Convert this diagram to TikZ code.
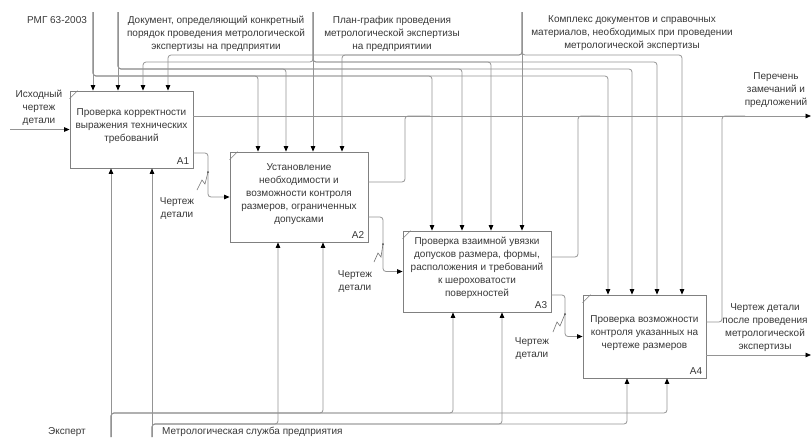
\documentclass[tikz,border=0pt]{standalone}
\usepackage{fontspec}
\setmainfont{Liberation Sans}
\usetikzlibrary{arrows.meta}
\begin{document}
\begin{tikzpicture}[x=1pt,y=-1pt,
  ln/.style={draw=black!42, line width=0.8pt, rounded corners=3pt},
  arr/.style={ln, -{Triangle[length=5.5pt,width=4.5pt,color=black]}},
  box/.style={draw=black!50, line width=0.8pt, fill=white, inner sep=0pt},
  boxline/.style={draw=black!50, line width=0.6pt},
  txt/.style={font=\fontsize{10}{13}\selectfont, text=black!78, align=center, inner sep=0pt},
  sq/.style={draw=black!55, line width=0.6pt},
]
\useasboundingbox[fill=white] (0,0) rectangle (812,437);

% boxes
\node[box, minimum width=123pt, minimum height=77pt] (A1) at (131.5,129.5) {};
\node[box, minimum width=138pt, minimum height=90pt] (A2) at (299,197) {};
\node[box, minimum width=148pt, minimum height=81pt] (A3) at (477,271.5) {};
\node[box, minimum width=123pt, minimum height=83pt] (A4) at (644.5,336.5) {};
\foreach \b in {A1,A2,A3,A4}{
  \draw[boxline] ([yshift=-8pt]\b.north west) -- ([xshift=8pt]\b.north west);
  \node[txt, anchor=south east] (\b n) at ([xshift=-4pt,yshift=4pt]\b.south east) {\b};
}
\node[txt] (t1) at ([yshift=3pt]A1.center) {Проверка корректности\\выражения технических\\требований};
\node[txt] (t2) at ([yshift=3pt]A2.center) {Установление\\необходимости и\\возможности контроля\\размеров, ограниченных\\допусками};
\node[txt] (t3) at ([yshift=4pt]A3.center) {Проверка взаимной увязки\\допусков размера, формы,\\расположения и требований\\к шероховатости\\поверхностей};
\node[txt] (t4) at ([yshift=3pt]A4.center) {Проверка возможности\\контроля указанных на\\чертеже размеров};

% sources
\coordinate (rmg) at (93,12);
\coordinate (doc) at (118,12);
\coordinate (plan) at (313,12);
\coordinate (kompl) at (522,12);
\coordinate (exp) at (111,437);
\coordinate (mslu) at (152,437);

% controls
\draw[arr] (rmg) -- (rmg |- A1.north);
\foreach \x/\b in {258/A2,432/A3,608/A4}
  \draw[arr] (rmg) -- (93,76) -- (\x,76) -- (\x,0 |- \b.north);
\draw[arr] (doc) -- (doc |- A1.north);
\foreach \x/\b in {286/A2,462/A3,632/A4}
  \draw[arr] (doc) -- (118,69) -- (\x,69) -- (\x,0 |- \b.north);
\draw[arr] (plan) -- (plan |- A2.north);
\foreach \x/\b in {143/A1,491/A3,657/A4}
  \draw[arr] (plan) -- (313,62) -- (\x,62) -- (\x,0 |- \b.north);
\draw[arr] (kompl) -- (kompl |- A3.north);
\foreach \x/\b in {168/A1,342/A2,682/A4}
  \draw[arr] (kompl) -- (522,55) -- (\x,55) -- (\x,0 |- \b.north);

% mechanisms
\draw[arr] (exp) -- (exp |- A1.south);
\foreach \x/\b in {323/A2,453/A3,667/A4}
  \draw[arr] (exp) -- (111,413) -- (\x,413) -- (\x,0 |- \b.south);
\draw[arr] (mslu) -- (mslu |- A1.south);
\foreach \x/\b in {278/A2,502/A3,627/A4}
  \draw[arr] (mslu) -- (152,424) -- (\x,424) -- (\x,0 |- \b.south);

% input
\coordinate (inp) at (10,129.5);
\draw[arr] (inp) -- (A1.west);

% outputs
\coordinate (out1) at (811,116);
\coordinate (out2) at (811,355);
\draw[arr] (A1.east |- out1) -- (out1);
\draw[ln] (A2.east |- 0,182) -- (405,182) -- (405,116) -- (430,116);
\draw[ln] (A3.east |- 0,257) -- (578,257) -- (578,116) -- (600,116);
\draw[ln] (A4.east |- 0,322) -- (722,322) -- (722,116) -- (745,116);
\draw[arr] (A4.east |- out2) -- (out2);

\draw[arr] (A1.east |- 0,153) -- (208,153) -- (208,0 |- A2.west) -- (A2.west);
\draw[arr] (A2.east |- 0,217) -- (383,217) -- (383,0 |- A3.west) -- (A3.west);
\draw[arr] (A3.east |- 0,295) -- (565,295) -- (565,0 |- A4.west) -- (A4.west);

% squiggles
\draw[sq] (197,190) -- (202,180) -- (205,184) -- (208,172);
\fill[black!70] (208,172) circle (1pt);
\draw[sq] (374,262) -- (378,253) -- (381,257) -- (383,244);
\fill[black!70] (383,244) circle (1pt);
\draw[sq] (553,332) -- (557,322) -- (560,326) -- (565,314);
\fill[black!70] (565,314) circle (1pt);

% labels
\node[txt] (lrmg) at (57,20) {РМГ 63-2003};
\node[txt] (ldoc) at (216,33.5) {Документ, определяющий конкретный\\порядок проведения метрологической\\экспертизы на предприятии};
\node[txt] (lplan) at (392,33.5) {План-график проведения\\метрологической экспертизы\\на предприятиии};
\node[txt] (lkom) at (632,33.5) {Комплекс документов и справочных\\материалов, необходимых при проведении\\метрологической экспертизы};
\node[txt] (lin) at (39,108) {Исходный\\чертеж\\детали};
\node[txt] (lper) at (776,90) {Перечень\\замечаний и\\предложений};
\node[txt] (lcd1) at (177,208.5) {Чертеж\\детали};
\node[txt] (lcd2) at (355,282) {Чертеж\\детали};
\node[txt] (lcd3) at (532,348.5) {Чертеж\\детали};
\node[txt] (lout) at (765,328) {Чертеж детали\\после проведения\\метрологической\\экспертизы};
\node[txt] (lexp) at (67,432) {Эксперт};
\node[txt, anchor=west] (lms) at (162,432) {Метрологическая служба предприятия};
\end{tikzpicture}
\end{document}
